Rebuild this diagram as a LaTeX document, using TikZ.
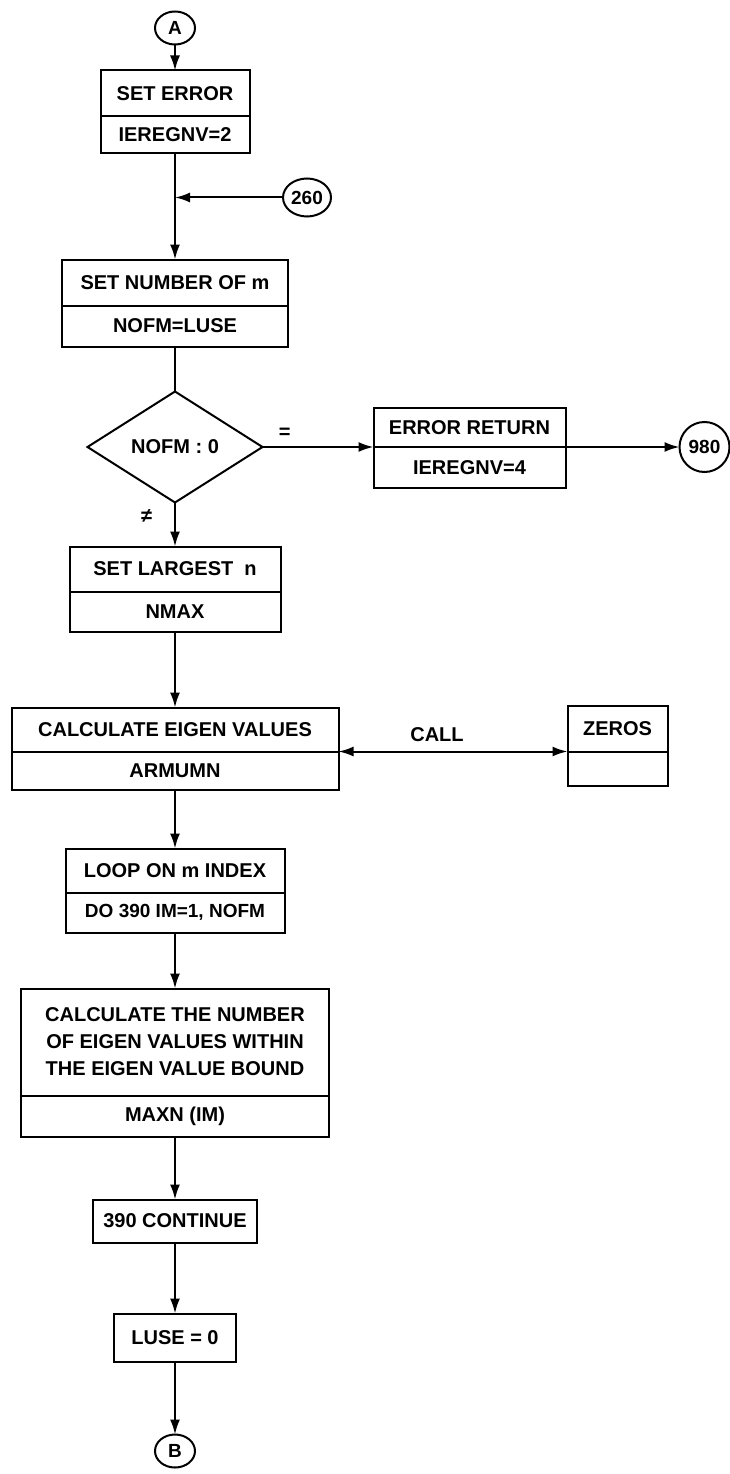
\documentclass[tikz,border=0pt]{standalone}
\usepackage{fontspec}
\setmainfont{Liberation Sans}
\usetikzlibrary{arrows.meta,positioning,shapes.geometric}

\begin{document}
\begin{tikzpicture}[
  x=1pt, y=-1pt,
  line width=2pt,
  box/.style={draw,outer sep=0pt,inner sep=2pt,align=center,font=\bfseries\fontsize{20}{27}\selectfont},
  conn/.style={draw,ellipse,outer sep=0pt,inner sep=0pt,font=\bfseries\fontsize{19}{20}\selectfont},
  decision/.style={draw,diamond,outer sep=0pt,inner sep=1pt,minimum width=175pt,minimum height=111pt,font=\bfseries\fontsize{20}{22}\selectfont},
  lbl/.style={font=\bfseries\fontsize{20}{22}\selectfont,inner sep=2pt},
  arr/.style={-{Latex[length=15pt,width=10pt]}},
  twoarr/.style={{Latex[length=15pt,width=10pt]}-{Latex[length=15pt,width=10pt]}}
]
\useasboundingbox (0,0) rectangle (729,1474);
\node[conn, minimum width=40pt, minimum height=33pt] (A) at (175,28) {A};
\node[box, below=26pt of A, minimum width=149pt, minimum height=46pt] (seterr) {SET ERROR};
\node[box, below=0pt of seterr, minimum width=149pt, minimum height=37pt] (seterrv) {IEREGNV=2};
\coordinate[below=44pt of seterrv] (join);
\node[conn, right=108pt of join, minimum width=48pt, minimum height=38pt] (c260) {260};
\node[box, below=62pt of join, minimum width=226pt, minimum height=46pt] (setnum) {SET NUMBER OF m};
\node[box, below=0pt of setnum, minimum width=226pt, minimum height=41pt] (setnumv) {NOFM=LUSE};
\node[decision, below=45pt of setnumv] (nofm) {NOFM : 0};
\node[box, right=111pt of nofm.east, anchor=south west, minimum width=192pt, minimum height=39pt] (errret) {ERROR RETURN};
\node[box, below=0pt of errret, minimum width=192pt, minimum height=41pt] (errretv) {IEREGNV=4};
\node[conn, right=114pt of errret.south east, minimum width=50pt, minimum height=50pt] (c980) {980};
\node[box, below=44pt of nofm, minimum width=211pt, minimum height=45pt] (setlarge) {SET LARGEST\ \ n};
\node[box, below=0pt of setlarge, minimum width=211pt, minimum height=40pt] (setlargev) {NMAX};
\node[box, below=76pt of setlargev, minimum width=327pt, minimum height=44pt] (eigen) {CALCULATE EIGEN VALUES};
\node[box, below=0pt of eigen, minimum width=327pt, minimum height=38pt] (eigenv) {ARMUMN};
\node[box, right=229pt of eigen.south east, anchor=south west, minimum width=100pt, minimum height=46pt] (zeros) {ZEROS};
\node[box, below=0pt of zeros, minimum width=100pt, minimum height=34pt] (zerosv) {};
\node[box, below=59pt of eigenv, minimum width=219pt, minimum height=44pt] (loop) {LOOP ON m INDEX};
\node[box, below=0pt of loop, minimum width=219pt, minimum height=40pt, font=\bfseries\fontsize{19}{22}\selectfont] (loopv) {DO 390 IM=1, NOFM};
\node[box, below=56pt of loopv, minimum width=308pt, minimum height=107pt] (count) {CALCULATE THE NUMBER\\OF EIGEN VALUES WITHIN\\THE EIGEN VALUE BOUND};
\node[box, below=0pt of count, minimum width=308pt, minimum height=41pt] (countv) {MAXN (IM)};
\node[box, below=63pt of countv, minimum width=164pt, minimum height=43pt] (cont) {390 CONTINUE};
\node[box, below=71pt of cont, minimum width=122pt, minimum height=48pt] (luse) {LUSE = 0};
\node[conn, below=73pt of luse, minimum width=40pt, minimum height=33pt] (B) {B};

\draw[arr] (A) -- (seterr);
\draw (seterrv) -- (join);
\draw[arr] (join) -- (setnum);
\draw[arr] (c260) -- (join);
\draw (setnumv) -- (nofm);
\draw[arr] (nofm.east) -- node[lbl, pos=0.2, above=6pt] {=} (nofm.east -| errret.west);
\draw[arr] (errret.south east) -- (c980);
\draw[arr] (nofm) -- node[lbl, pos=0.3, left=20pt] {≠} (setlarge);
\draw[arr] (setlargev) -- (eigen);
\draw[twoarr] (eigen.south east) -- node[lbl, pos=0.43, above=7pt] {CALL} (zeros.south west);
\draw[arr] (eigenv) -- (loop);
\draw[arr] (loopv) -- (count);
\draw[arr] (countv) -- (cont);
\draw[arr] (cont) -- (luse);
\draw[arr] (luse) -- (B);
\end{tikzpicture}
\end{document}
